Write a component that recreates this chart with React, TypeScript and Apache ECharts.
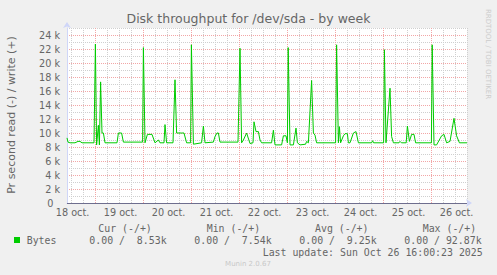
import React, { useEffect, useRef } from "react";
import * as echarts from "echarts";

// hours since 18 oct 00:00, values in bytes/s
const times = [
  10, 10.5, 11.5, 14, 15.5, 16.5, 17.5, 23.5, 24.2, 24.8, 25.7, 26.2, 26.8, 27.5, 28.2, 29,
  35, 35.7, 37.3, 38.2, 47.8, 48.2, 49, 50.2, 52.5, 54, 55.7, 56.5, 58.5, 59, 59.8, 63, 64,
  64.8, 67.3, 68.5, 69.8, 71.8, 72.2, 73.2, 77.3, 78.2, 79, 83.2, 84, 85, 85.7, 86.5, 95.5,
  96.5, 97.3, 98.2, 99.8, 101.5, 103, 103.5, 104.5, 105.7, 106.5, 107.3, 112.3, 113.2, 114,
  117.3, 118.2, 119.5, 120.2, 120.6, 121.5, 123.2, 124.5, 125.2, 126.5, 129.3, 129.8, 130.7,
  132.3, 133.2, 134, 134.8, 144.3, 144.8, 145.7, 146.2, 146.8, 148.2, 149, 150.2, 150.7,
  151.5, 153.2, 154.5, 155.7, 162.3, 162.8, 163.3, 168.3, 168.7, 169.5, 171.5, 172.3, 173.2,
  176, 176.5, 177.2, 179.6, 180.2, 181.2, 182.3, 183.5, 184.3, 192.2, 192.6, 193.5, 194.8,
  197.3, 198.5, 199.8, 201.5, 203.5, 204.8, 206.2, 210,
];
const valuesK = [
  9.3, 8.7, 8.6, 8.6, 8.8, 8.8, 8.6, 8.6, 22.7, 8.3, 11.1, 8.3, 17.3, 10.0, 10.0, 8.6,
  8.6, 10.0, 10.0, 8.7, 8.7, 22.2, 8.6, 9.8, 9.8, 8.6, 9.0, 8.6, 8.6, 11.2, 8.6, 8.6, 17.6,
  10.0, 10.0, 10.0, 8.6, 8.6, 22.6, 8.4, 8.6, 11.0, 8.6, 8.7, 9.5, 10.0, 10.0, 8.7, 8.7,
  22.1, 8.6, 9.0, 10.0, 8.5, 8.6, 11.6, 10.2, 10.2, 9.0, 8.6, 8.6, 10.4, 8.3,
  8.3, 9.6, 9.6, 8.6, 22.2, 8.3, 8.3, 10.7, 8.6, 8.3, 8.4, 8.8, 8.6,
  17.5, 10.0, 9.7, 8.6, 8.6, 22.6, 8.6, 10.9, 8.6, 9.6, 9.9, 9.9, 8.6,
  8.6, 10.0, 10.2, 8.6, 8.6, 8.9, 8.6, 8.6, 21.9, 8.6, 16.4, 9.5, 8.6,
  8.6, 8.8, 8.6, 8.6, 11.0, 8.8, 9.8, 9.8, 8.6, 8.6, 22.6, 8.3, 8.3,
  9.6, 9.8, 8.6, 8.8, 12.1, 9.6, 8.6, 8.6,
];

const dayLabels = ["18 oct.", "19 oct.", "20 oct.", "21 oct.", "22 oct.", "23 oct.", "24 oct.", "25 oct.", "26 oct."];
const legendHeaders = ["Cur (-/+)", "Min (-/+)", "Avg (-/+)", "Max (-/+)"];
const legendValues = ["0.00 /  8.53k", "0.00 /  7.54k", "0.00 /  9.25k", "0.00 / 92.87k"];
const seriesName = "Bytes";
const lastUpdate = "Last update: Sun Oct 26 16:00:23 2025";

const MONO = '"DejaVu Sans Mono", monospace';
const SANS = '"DejaVu Sans", sans-serif';
const FONT_COLOR = "#666666";
const RED = "#f2a6a6";
const GRAY = "#cfcfcf";
const T = "rgba(0,0,0,0)";

export default function App() {
  const ref = useRef<HTMLDivElement>(null);
  useEffect(() => {
    if (!ref.current) return;
    const chart = echarts.init(ref.current, undefined, { renderer: "svg" });
    const data = times.map((t, i) => [t, valuesK[i] * 1000]);
    const headerX = [98.3, 206.7, 315, 422.7];
    const valueX = [89.3, 194.3, 299.3, 404.3];
    const graphics: any[] = [
      {
        type: "text",
        left: "center",
        top: 12,
        style: { text: "Disk throughput for /dev/sda - by week", fill: FONT_COLOR, fontSize: 12.5, fontFamily: SANS },
      },
      {
        type: "text",
        x: 11,
        y: 115,
        rotation: Math.PI / 2,
        style: {
          text: "Pr second read (-) / write (+)", x: 0, y: 0, fill: FONT_COLOR, fontSize: 11, fontFamily: SANS,
          align: "center", verticalAlign: "middle", textAlign: "center", textVerticalAlign: "middle",
        },
      },
      {
        type: "text",
        x: 488,
        y: 54,
        rotation: -Math.PI / 2,
        style: {
          text: "RRDTOOL / TOBI OETIKER", x: 0, y: 0, fill: "#cccccc", fontSize: 7, fontFamily: SANS,
          align: "center", verticalAlign: "middle", textAlign: "center", textVerticalAlign: "middle",
        },
      },
      { type: "rect", shape: { x: 14, y: 237, width: 6, height: 6 }, style: { fill: "#00cc00" } },
      {
        type: "text",
        style: { text: seriesName, x: 26.7, y: 240, fill: FONT_COLOR, fontSize: 9.9, fontFamily: MONO, align: "left", verticalAlign: "middle", textAlign: "left", textVerticalAlign: "middle" },
      },
      {
        type: "text",
        style: { text: lastUpdate, x: 482.7, y: 252, fill: FONT_COLOR, fontSize: 9.9, fontFamily: MONO, align: "right", verticalAlign: "middle", textAlign: "right", textVerticalAlign: "middle" },
      },
      {
        type: "text",
        style: { text: "Munin 2.0.67", x: 248, y: 264.3, fill: "#c8c8c8", fontSize: 7, fontFamily: SANS, align: "center", verticalAlign: "middle", textAlign: "center", textVerticalAlign: "middle" },
      },
    ];
    legendHeaders.forEach((h, i) => {
      graphics.push({
        type: "text",
        style: { text: h, x: headerX[i], y: 228, fill: FONT_COLOR, fontSize: 9.9, fontFamily: MONO, align: "left", verticalAlign: "middle", textAlign: "left", textVerticalAlign: "middle" },
      });
    });
    legendValues.forEach((v, i) => {
      graphics.push({
        type: "text",
        style: { text: v, x: valueX[i], y: 240, fill: FONT_COLOR, fontSize: 9.9, fontFamily: MONO, align: "left", verticalAlign: "middle", textAlign: "left", textVerticalAlign: "middle", whiteSpace: "pre" },
      });
    });

    // x tick every 2h starting at 10:00 -> pattern over one day
    const xColors = [T, GRAY, T, T, GRAY, T, T, RED, T, T, GRAY, T];

    chart.setOption({
      animation: false,
      backgroundColor: "#f0f0f0",
      grid: { left: 67, top: 28, width: 400, height: 175, show: true, backgroundColor: "#ffffff", borderWidth: 0 },
      xAxis: {
        type: "value",
        min: 10,
        max: 210,
        interval: 2,
        axisLine: { show: true, lineStyle: { color: "#cfd6f8", width: 1 }, symbol: ["none", "arrow"], symbolSize: [6, 6], symbolOffset: [0, 5] },
        axisTick: { show: false },
        axisLabel: {
          color: FONT_COLOR,
          fontSize: 9.7,
          fontFamily: SANS,
          margin: 4,
          padding: [0, 0, 0, 3],
          showMinLabel: true,
          showMaxLabel: true,
          formatter: (v: number) => {
            if (Math.round(v) % 24 === 12) {
              const idx = Math.round((v - 12) / 24);
              return dayLabels[idx] ?? "";
            }
            return "";
          },
        },
        splitLine: { show: true, lineStyle: { color: xColors, width: 1, type: [1, 1] } },
      },
      yAxis: {
        type: "value",
        min: 0,
        max: 25000,
        interval: 1000,
        axisLine: { show: true, lineStyle: { color: "#cfd6f8", width: 1 }, symbol: ["none", "arrow"], symbolSize: [6, 6], symbolOffset: [0, 6] },
        axisTick: { show: false },
        axisLabel: {
          color: FONT_COLOR,
          fontSize: 9.7,
          fontFamily: SANS,
          margin: 7,
          formatter: (v: number) => (v === 0 ? "{z|0}" : v % 2000 === 0 ? `${v / 1000} k` : ""),
          rich: { z: { color: FONT_COLOR, fontSize: 9.7, fontFamily: SANS, padding: [0, 6.5, 0, 0] } },
        },
        splitLine: { show: true, lineStyle: { color: [RED, GRAY], width: 1, type: [1, 1] } },
      },
      graphic: graphics,
      series: [
        {
          type: "line",
          data,
          symbol: "none",
          lineStyle: { color: "#00cc00", width: 1 },
          markLine: {
            silent: true,
            symbol: "none",
            label: { show: false },
            lineStyle: { color: "#6e6e8e", width: 1, type: "solid" },
            data: [{ yAxis: 0 }],
          },
        },
      ],
    });
    return () => chart.dispose();
  }, []);
  return <div ref={ref} style={{ position: "fixed", left: 0, top: 0, width: 497, height: 275 }} />;
}
